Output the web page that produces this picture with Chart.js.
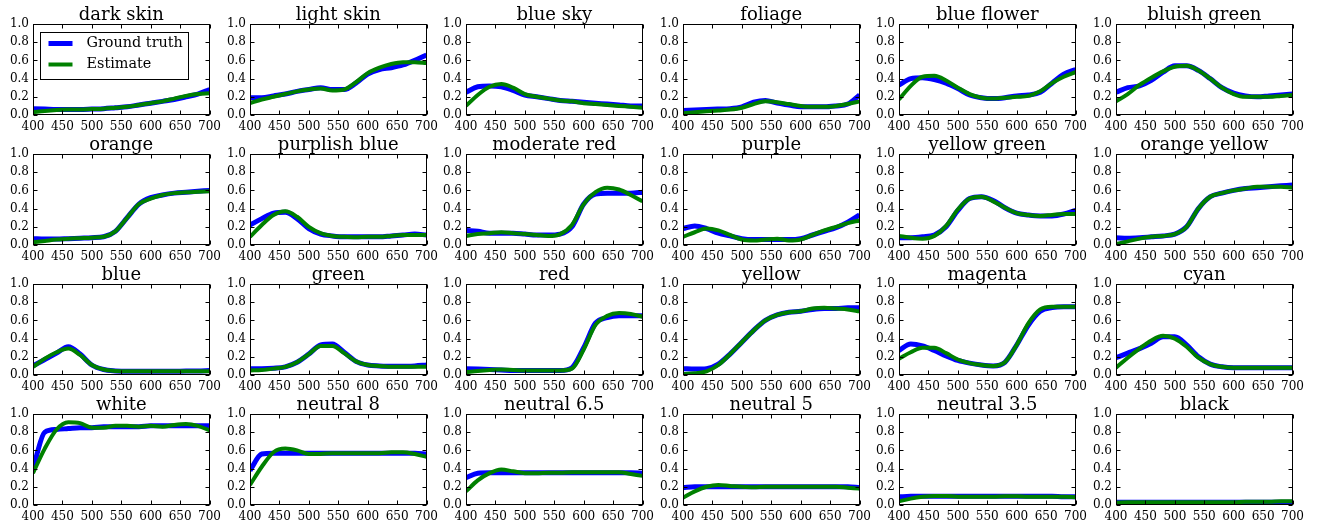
<!DOCTYPE html>
<html>
<head>
<meta charset="utf-8">
<script src="https://cdn.jsdelivr.net/npm/chart.js@4.4.0/dist/chart.umd.min.js"></script>
<style>
  body { margin: 0; background: #fff; }
  #wrap { position: relative; width: 1320px; height: 527px; overflow: hidden; }
  #wrap canvas { position: absolute; }
</style>
</head>
<body>
<div id="wrap"></div>
<script>
// wavelength samples (nm)
const wavelengths = [400, 420, 440, 460, 480, 500, 520, 540, 560, 580, 600, 620, 640, 660, 680, 700];
const xTicks = [400, 450, 500, 550, 600, 650, 700];
const yTicks = [0, 0.2, 0.4, 0.6, 0.8, 1.0];

const patchNames = [
    'dark skin', 'light skin', 'blue sky', 'foliage', 'blue flower', 'bluish green',
    'orange', 'purplish blue', 'moderate red', 'purple', 'yellow green', 'orange yellow',
    'blue', 'green', 'red', 'yellow', 'magenta', 'cyan',
    'white', 'neutral 8', 'neutral 6.5', 'neutral 5', 'neutral 3.5', 'black'
];

const groundTruth = [
    [0.07, 0.065, 0.06, 0.06, 0.06, 0.065, 0.07, 0.08, 0.09, 0.11, 0.13, 0.15, 0.17, 0.20, 0.23, 0.28], // dark skin
    [0.19, 0.19, 0.21, 0.23, 0.26, 0.28, 0.30, 0.28, 0.28, 0.35, 0.45, 0.50, 0.52, 0.55, 0.60, 0.66], // light skin
    [0.25, 0.31, 0.32, 0.31, 0.27, 0.22, 0.20, 0.18, 0.16, 0.15, 0.14, 0.13, 0.12, 0.11, 0.10, 0.10], // blue sky
    [0.05, 0.055, 0.06, 0.065, 0.07, 0.09, 0.14, 0.16, 0.13, 0.11, 0.09, 0.09, 0.09, 0.10, 0.12, 0.22], // foliage
    [0.33, 0.40, 0.41, 0.39, 0.35, 0.29, 0.22, 0.19, 0.18, 0.19, 0.21, 0.22, 0.25, 0.35, 0.45, 0.50], // blue flower
    [0.25, 0.30, 0.32, 0.38, 0.47, 0.54, 0.54, 0.49, 0.40, 0.30, 0.24, 0.21, 0.20, 0.21, 0.22, 0.23], // bluish green
    [0.07, 0.065, 0.065, 0.07, 0.075, 0.08, 0.09, 0.15, 0.30, 0.45, 0.52, 0.55, 0.57, 0.58, 0.59, 0.60], // orange
    [0.22, 0.29, 0.35, 0.36, 0.29, 0.18, 0.12, 0.10, 0.09, 0.09, 0.09, 0.09, 0.10, 0.11, 0.12, 0.11], // purplish blue
    [0.16, 0.15, 0.13, 0.13, 0.13, 0.12, 0.11, 0.11, 0.12, 0.20, 0.45, 0.56, 0.57, 0.57, 0.57, 0.58], // moderate red
    [0.18, 0.21, 0.18, 0.13, 0.10, 0.07, 0.06, 0.06, 0.06, 0.06, 0.07, 0.11, 0.15, 0.19, 0.25, 0.33], // purple
    [0.08, 0.08, 0.09, 0.11, 0.20, 0.38, 0.51, 0.53, 0.49, 0.41, 0.35, 0.33, 0.32, 0.32, 0.34, 0.38], // yellow green
    [0.08, 0.075, 0.08, 0.09, 0.10, 0.12, 0.20, 0.40, 0.53, 0.57, 0.60, 0.62, 0.63, 0.64, 0.65, 0.66], // orange yellow
    [0.10, 0.17, 0.24, 0.31, 0.23, 0.11, 0.06, 0.045, 0.04, 0.04, 0.04, 0.04, 0.04, 0.045, 0.045, 0.05], // blue
    [0.07, 0.07, 0.075, 0.09, 0.14, 0.23, 0.33, 0.34, 0.25, 0.15, 0.11, 0.10, 0.095, 0.095, 0.10, 0.11], // green
    [0.07, 0.065, 0.06, 0.055, 0.05, 0.05, 0.05, 0.05, 0.05, 0.08, 0.30, 0.57, 0.63, 0.65, 0.65, 0.65], // red
    [0.07, 0.065, 0.07, 0.12, 0.23, 0.36, 0.49, 0.60, 0.66, 0.69, 0.70, 0.72, 0.73, 0.73, 0.74, 0.74], // yellow
    [0.27, 0.34, 0.32, 0.27, 0.21, 0.16, 0.13, 0.11, 0.10, 0.14, 0.33, 0.55, 0.70, 0.74, 0.75, 0.75], // magenta
    [0.19, 0.24, 0.29, 0.35, 0.42, 0.42, 0.33, 0.20, 0.12, 0.09, 0.08, 0.08, 0.08, 0.08, 0.08, 0.08], // cyan
    [0.40, 0.80, 0.83, 0.84, 0.85, 0.85, 0.86, 0.86, 0.86, 0.86, 0.87, 0.87, 0.87, 0.87, 0.87, 0.87], // white
    [0.38, 0.56, 0.57, 0.57, 0.57, 0.57, 0.57, 0.57, 0.57, 0.57, 0.57, 0.57, 0.57, 0.57, 0.57, 0.56], // neutral 8
    [0.30, 0.35, 0.355, 0.355, 0.355, 0.355, 0.355, 0.355, 0.355, 0.355, 0.355, 0.355, 0.355, 0.355, 0.355, 0.35], // neutral 6.5
    [0.19, 0.20, 0.20, 0.20, 0.20, 0.20, 0.20, 0.20, 0.20, 0.20, 0.20, 0.20, 0.20, 0.20, 0.20, 0.19], // neutral 5
    [0.09, 0.095, 0.095, 0.095, 0.095, 0.095, 0.095, 0.095, 0.095, 0.095, 0.095, 0.095, 0.095, 0.095, 0.09, 0.09], // neutral 3.5
    [0.03, 0.03, 0.03, 0.03, 0.03, 0.03, 0.03, 0.03, 0.03, 0.03, 0.03, 0.03, 0.03, 0.03, 0.03, 0.03]  // black
];

const estimate = [
    [0.03, 0.045, 0.055, 0.06, 0.06, 0.065, 0.07, 0.08, 0.09, 0.11, 0.13, 0.15, 0.18, 0.21, 0.23, 0.24],
    [0.13, 0.17, 0.20, 0.23, 0.26, 0.28, 0.29, 0.27, 0.28, 0.36, 0.46, 0.52, 0.56, 0.58, 0.58, 0.57],
    [0.10, 0.22, 0.31, 0.34, 0.30, 0.23, 0.20, 0.18, 0.16, 0.15, 0.13, 0.12, 0.11, 0.10, 0.09, 0.08],
    [0.02, 0.03, 0.04, 0.05, 0.06, 0.08, 0.12, 0.15, 0.14, 0.12, 0.10, 0.09, 0.09, 0.10, 0.12, 0.15],
    [0.17, 0.32, 0.42, 0.43, 0.38, 0.30, 0.23, 0.19, 0.18, 0.19, 0.20, 0.21, 0.26, 0.35, 0.42, 0.47],
    [0.15, 0.23, 0.33, 0.41, 0.48, 0.53, 0.54, 0.49, 0.40, 0.30, 0.23, 0.20, 0.20, 0.20, 0.21, 0.22],
    [0.03, 0.045, 0.06, 0.07, 0.075, 0.08, 0.09, 0.15, 0.30, 0.45, 0.51, 0.55, 0.57, 0.58, 0.585, 0.59],
    [0.09, 0.22, 0.33, 0.37, 0.31, 0.20, 0.13, 0.10, 0.09, 0.085, 0.09, 0.09, 0.10, 0.11, 0.11, 0.11],
    [0.10, 0.12, 0.13, 0.14, 0.13, 0.12, 0.11, 0.10, 0.12, 0.22, 0.45, 0.58, 0.63, 0.61, 0.55, 0.48],
    [0.09, 0.14, 0.18, 0.16, 0.11, 0.06, 0.05, 0.06, 0.07, 0.05, 0.06, 0.11, 0.16, 0.20, 0.24, 0.27],
    [0.10, 0.08, 0.07, 0.10, 0.21, 0.39, 0.51, 0.53, 0.48, 0.41, 0.35, 0.33, 0.32, 0.33, 0.34, 0.34],
    [0.01, 0.04, 0.07, 0.09, 0.10, 0.12, 0.20, 0.40, 0.53, 0.57, 0.60, 0.62, 0.64, 0.64, 0.64, 0.63],
    [0.09, 0.18, 0.25, 0.29, 0.22, 0.11, 0.06, 0.045, 0.04, 0.04, 0.04, 0.04, 0.04, 0.04, 0.04, 0.04],
    [0.05, 0.055, 0.07, 0.09, 0.14, 0.23, 0.32, 0.32, 0.24, 0.15, 0.11, 0.10, 0.09, 0.09, 0.09, 0.09],
    [0.03, 0.045, 0.055, 0.06, 0.055, 0.05, 0.05, 0.05, 0.05, 0.07, 0.28, 0.55, 0.65, 0.68, 0.67, 0.64],
    [0.01, 0.02, 0.04, 0.11, 0.23, 0.36, 0.49, 0.60, 0.66, 0.69, 0.70, 0.73, 0.74, 0.73, 0.72, 0.70],
    [0.18, 0.25, 0.30, 0.30, 0.24, 0.17, 0.13, 0.11, 0.10, 0.14, 0.33, 0.57, 0.72, 0.75, 0.75, 0.75],
    [0.08, 0.19, 0.29, 0.38, 0.43, 0.40, 0.31, 0.19, 0.12, 0.09, 0.08, 0.08, 0.08, 0.08, 0.08, 0.08],
    [0.35, 0.62, 0.83, 0.91, 0.90, 0.85, 0.85, 0.87, 0.87, 0.86, 0.87, 0.86, 0.88, 0.89, 0.87, 0.82],
    [0.22, 0.42, 0.58, 0.62, 0.60, 0.56, 0.56, 0.57, 0.57, 0.57, 0.57, 0.57, 0.58, 0.58, 0.56, 0.53],
    [0.15, 0.27, 0.35, 0.39, 0.37, 0.35, 0.35, 0.355, 0.355, 0.36, 0.36, 0.36, 0.36, 0.36, 0.34, 0.32],
    [0.08, 0.15, 0.20, 0.22, 0.21, 0.20, 0.195, 0.20, 0.20, 0.20, 0.20, 0.20, 0.20, 0.20, 0.19, 0.18],
    [0.04, 0.07, 0.09, 0.10, 0.10, 0.09, 0.09, 0.09, 0.09, 0.095, 0.095, 0.09, 0.09, 0.09, 0.09, 0.085],
    [0.025, 0.03, 0.03, 0.03, 0.03, 0.03, 0.03, 0.03, 0.03, 0.03, 0.03, 0.035, 0.035, 0.035, 0.04, 0.04]
];

// grid geometry (plot area of the first panel, steps between panels)
const AX_LEFT = 33, AX_TOP = 24, COL_STEP = 216.5, ROW_STEP = 130;
const AX_W = 179, AX_H = 91;
const Y_AXIS_W = 33, X_AXIS_H = 22, PAD_RIGHT = 14;

Chart.defaults.font.family = '"DejaVu Serif", serif';
Chart.defaults.color = '#000';

// frame + inward ticks on all four sides, like matplotlib classic
const framePlugin = {
    id: 'frame',
    afterDatasetsDraw(chart) {
        const { ctx, chartArea: a, scales: { x, y } } = chart;
        const L = Math.round(a.left) + 0.5, R = Math.round(a.right) - 0.5;
        const T = Math.round(a.top) + 0.5, B = Math.round(a.bottom) - 0.5;
        ctx.save();
        ctx.strokeStyle = '#000';
        ctx.lineWidth = 1;
        ctx.beginPath();
        x.ticks.forEach(t => {
            const px = Math.round(x.getPixelForValue(t.value)) + 0.5;
            ctx.moveTo(px, B); ctx.lineTo(px, B - 4);
            ctx.moveTo(px, T); ctx.lineTo(px, T + 4);
        });
        y.ticks.forEach(t => {
            const py = Math.round(y.getPixelForValue(t.value)) + 0.5;
            ctx.moveTo(L, py); ctx.lineTo(L + 4, py);
            ctx.moveTo(R, py); ctx.lineTo(R - 4, py);
        });
        ctx.stroke();
        ctx.strokeRect(L, T, R - L, B - T);
        ctx.restore();
    }
};

// panel title above the plot area
const panelTitle = {
    id: 'panelTitle',
    afterDraw(chart, args, opts) {
        const { ctx, chartArea: a } = chart;
        ctx.save();
        ctx.fillStyle = '#000';
        ctx.font = '18px "DejaVu Serif", serif';
        ctx.textAlign = 'center';
        ctx.textBaseline = 'alphabetic';
        ctx.fillText(opts.text, (a.left + a.right) / 2, a.top - 4.5);
        ctx.restore();
    }
};

// legend box inside the first panel
const boxLegend = {
    id: 'boxLegend',
    afterDraw(chart, args, opts) {
        if (!opts.show) return;
        const { ctx, chartArea: a } = chart;
        const bx = Math.round(a.left) + 7.5, by = Math.round(a.top) + 8.5;
        ctx.save();
        ctx.fillStyle = '#fff';
        ctx.strokeStyle = '#000';
        ctx.lineWidth = 1;
        ctx.fillRect(bx, by, 148, 47);
        ctx.strokeRect(bx, by, 148, 47);
        ctx.font = '14.4px "DejaVu Serif", serif';
        ctx.textBaseline = 'middle';
        const items = chart.data.datasets.slice().sort((p, q) => q.order - p.order);
        items.forEach((ds, i) => {
            const ly = by + 11 + i * 21;
            ctx.strokeStyle = ds.borderColor;
            ctx.lineWidth = ds.borderWidth;
            ctx.beginPath();
            ctx.moveTo(bx + 8, ly);
            ctx.lineTo(bx + 32, ly);
            ctx.stroke();
            ctx.fillStyle = '#000';
            ctx.fillText(ds.label, bx + 46, ly);
        });
        ctx.restore();
    }
};

const wrap = document.getElementById('wrap');

patchNames.forEach((name, i) => {
    const col = i % 6, row = Math.floor(i / 6);
    const canvas = document.createElement('canvas');
    const w = Y_AXIS_W + AX_W + PAD_RIGHT, h = AX_TOP + AX_H + X_AXIS_H;
    canvas.width = w;
    canvas.height = h;
    canvas.style.left = (Math.round(AX_LEFT + col * COL_STEP) - Y_AXIS_W) + 'px';
    canvas.style.top = (row * ROW_STEP) + 'px';
    wrap.appendChild(canvas);

    new Chart(canvas, {
        type: 'line',
        data: {
            datasets: [
                {
                    label: 'Ground truth',
                    data: wavelengths.map((wl, k) => ({ x: wl, y: groundTruth[i][k] })),
                    borderColor: '#0000ff',
                    borderWidth: 5,
                    order: 2
                },
                {
                    label: 'Estimate',
                    data: wavelengths.map((wl, k) => ({ x: wl, y: estimate[i][k] })),
                    borderColor: '#008000',
                    borderWidth: 4,
                    order: 1
                }
            ]
        },
        options: {
            responsive: false,
            animation: false,
            events: [],
            layout: { padding: { top: AX_TOP, right: PAD_RIGHT, bottom: 0, left: 0 } },
            elements: {
                point: { radius: 0 },
                line: { cubicInterpolationMode: 'monotone', fill: false, borderCapStyle: 'butt' }
            },
            datasets: { line: { clip: 0 } },
            plugins: {
                legend: { display: false },
                tooltip: { enabled: false },
                title: { display: false },
                panelTitle: { text: name },
                boxLegend: { show: i === 0 }
            },
            scales: {
                x: {
                    type: 'linear',
                    min: 400,
                    max: 700,
                    afterBuildTicks: s => { s.ticks = xTicks.map(v => ({ value: v })); },
                    afterFit: s => { s.height = X_AXIS_H; },
                    grid: { display: false, drawTicks: false },
                    border: { display: false },
                    ticks: { font: { size: 12 }, padding: 5, maxRotation: 0, autoSkip: false, callback: v => String(v) }
                },
                y: {
                    type: 'linear',
                    min: 0,
                    max: 1,
                    afterBuildTicks: s => { s.ticks = yTicks.map(v => ({ value: v })); },
                    afterFit: s => { s.width = Y_AXIS_W; },
                    grid: { display: false, drawTicks: false },
                    border: { display: false },
                    ticks: { font: { size: 12 }, padding: 4, autoSkip: false, callback: v => v.toFixed(1) }
                }
            }
        },
        plugins: [framePlugin, panelTitle, boxLegend]
    });
});
</script>
</body>
</html>
